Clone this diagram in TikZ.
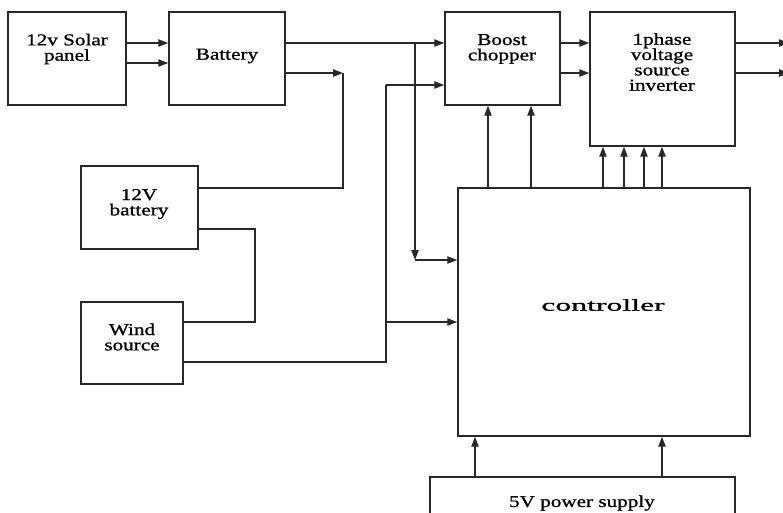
\documentclass[tikz,border=0pt]{standalone}
\usepackage{fontspec}
\setmainfont[FakeStretch=1.27,FakeBold=1]{Liberation Serif}
\usepackage{tikz}
\usetikzlibrary{arrows.meta,positioning,fit,calc}
\definecolor{edge}{RGB}{40,40,40}

\begin{document}
\begin{tikzpicture}[x=0.75pt,y=-0.75pt,font=\fontsize{12.5}{11.5}\selectfont]
\tikzset{blk/.style={draw=edge,line width=1.1pt,inner sep=0pt},
  lbl/.style={align=center,inner sep=0pt},
  wire/.style={draw=edge,line width=1pt},
  arr/.style={wire,-{Triangle[length=7.5pt,width=5.5pt]}}}
\useasboundingbox (0,0) rectangle (783,512);
% blocks
\node[blk,fit={(8,12) (126,105)}] (solar) {};
\node[blk,fit={(169,12) (285,105)}] (bat) {};
\node[blk,fit={(445,12) (560,105)}] (boost) {};
\node[blk,fit={(590,12) (735,146)}] (inv) {};
\node[blk,fit={(81,166) (198,249)}] (bat12) {};
\node[blk,fit={(81,302) (183,384)}] (wind) {};
\node[blk,fit={(458,188) (750,436)}] (ctrl) {};
\node[blk,fit={(430,477) (735,545)}] (psu) {};
% labels
\node[lbl] (solarT) at (67,49) {12v Solar\\panel};
\node[lbl] (batT) at (227,56) {Battery};
\node[lbl] (boostT) at (502,49) {Boost\\chopper};
\node[lbl] (invT) at (662,62) {1phase\\voltage\\source\\inverter};
\node[lbl] (bat12T) at (139,204) {12V\\battery};
\node[lbl] (windT) at (132,337) {Wind\\source};
\node[lbl] (ctrlT) at (603,305) {\scalebox{1.5}[1]{controller}};
\node[lbl] (psuT) at (582,503) {5V power supply};
% junctions
\coordinate (j1) at (343,73);
\coordinate (j2) at (415,43);
\coordinate (j3) at (415,260);
\coordinate (j4) at (386,85);
\coordinate (j5) at (386,322);
\coordinate (j6) at (255,229);
% solar and battery side
\draw[arr] (solar.east |- 0,43) -- (bat.west |- 0,43);
\draw[arr] (solar.east |- 0,63) -- (bat.west |- 0,63);
\draw[arr] (bat.east |- j2) -- (boost.west |- j2);
\draw[arr] (bat.east |- j1) -- (j1);
\draw[wire] (j1) -- (j1 |- 0,188) -- (bat12.east |- 0,188);
\draw[arr] (j2) -- (j3);
\draw[arr] (j3) -- (ctrl.west |- j3);
% wind side
\draw[arr] (j4) -- (boost.west |- j4);
\draw[wire] (j4) -- (j4 |- 0,362) -- (wind.east |- 0,362);
\draw[arr] (j5) -- (ctrl.west |- j5);
\draw[wire] (bat12.east |- j6) -- (j6) -- (j6 |- 0,322) -- (wind.east |- 0,322);
% converter chain
\draw[arr] (boost.east |- 0,43) -- (inv.west |- 0,43);
\draw[arr] (boost.east |- 0,73) -- (inv.west |- 0,73);
\draw[arr] (inv.east |- 0,43) -- (789,43);
\draw[arr] (inv.east |- 0,73) -- (789,73);
% gate signals
\foreach \gx in {488,531}
  \draw[arr] (ctrl.north -| \gx,0) -- (boost.south -| \gx,0);
\foreach \gx in {603,624,644,662}
  \draw[arr] (ctrl.north -| \gx,0) -- (inv.south -| \gx,0);
\foreach \gx in {475,662}
  \draw[arr] (psu.north -| \gx,0) -- (ctrl.south -| \gx,0);
\end{tikzpicture}
\end{document}
